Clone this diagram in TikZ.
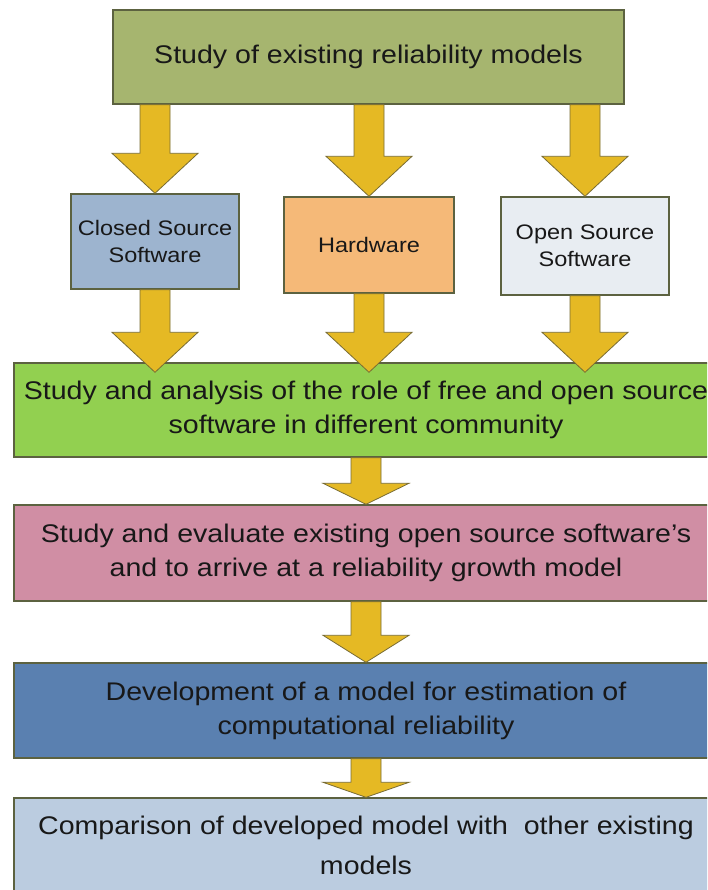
\documentclass[tikz,border=0pt]{standalone}
\usepackage{fontspec}
\setmainfont{Liberation Sans}[FakeStretch=1.12]
\usetikzlibrary{calc}

\definecolor{boxline}{RGB}{92,98,64}
\definecolor{textcol}{RGB}{24,24,24}
\definecolor{cstudy}{RGB}{166,181,111}
\definecolor{cclosed}{RGB}{157,180,207}
\definecolor{chard}{RGB}{245,185,120}
\definecolor{copen}{RGB}{232,237,242}
\definecolor{cgreen}{RGB}{146,208,80}
\definecolor{cpink}{RGB}{208,142,164}
\definecolor{cblue}{RGB}{90,128,176}
\definecolor{clight}{RGB}{187,204,224}
\definecolor{arrowfill}{RGB}{229,185,36}
\definecolor{arrowline}{RGB}{120,108,52}

\tikzset{
  box/.style={draw=boxline, line width=1.4pt, rectangle, inner sep=0pt,
    align=center, text=textcol},
  bigbox/.style={box, minimum width=704pt, minimum height=95pt,
    font=\fontsize{25.5}{34}\selectfont},
  smallbox/.style={box, minimum width=168pt,
    font=\fontsize{21}{26.5}\selectfont},
  fatarrow/.style={fill=arrowfill, draw=arrowline, line width=0.8pt,
    line join=miter},
}

% thick downward block arrow: start point, tip point, head length
\newcommand\blockarrow[3]{%
  \draw[fatarrow] let \p1=(#1), \p2=(#2) in
    (\x1-15pt,\y1) -- (\x1-15pt,\y2+#3pt) -- (\x1-43pt,\y2+#3pt) --
    (\x2,\y2) -- (\x1+43pt,\y2+#3pt) -- (\x1+15pt,\y2+#3pt) --
    (\x1+15pt,\y1) -- cycle;}

\begin{document}
\begin{tikzpicture}[x=1pt, y=-1pt]
  \useasboundingbox (0,0) rectangle (707,890);
  \clip (0,0) rectangle (707,890);
  \fill[white] (0,0) rectangle (707,890);

  % boxes
  \node[box, fill=cstudy, minimum width=511pt, minimum height=94pt,
        font=\fontsize{25.5}{34}\selectfont] (study) at (368.5,57)
        {Study of existing reliability models};

  \node[smallbox, fill=cclosed, minimum height=95pt] (closed) at (155,241.5)
        {Closed Source\\Software};
  \node[smallbox, fill=chard, minimum width=170pt, minimum height=96pt] (hard) at (369,245)
        {Hardware};
  \node[smallbox, fill=copen, minimum height=98pt] (open) at (585,246)
        {Open Source\\Software};

  \node[bigbox, fill=cgreen, minimum height=94pt] (role) at (366,410)
        {Study and analysis of the role of free and open source\\software in different community};
  \node[bigbox, fill=cpink, minimum height=96pt] (eval) at (366,553)
        {Study and evaluate existing open source software’s\\and to arrive at a reliability growth model};
  \node[bigbox, fill=cblue] (devel) at (366,710.5)
        {Development of a model for estimation of\\computational reliability};
  \node[bigbox, fill=clight, font=\fontsize{25.5}{40}\selectfont] (comp) at (366,845.5)
        {Comparison of developed model with~ other existing\\models};

  % arrows from the study box to the three domains
  \blockarrow{study.south -| closed.north}{closed.north}{40}
  \blockarrow{study.south -| hard.north}{hard.north}{40}
  \blockarrow{study.south -| open.north}{open.north}{40}

  % arrows from the three domains into the analysis box
  \blockarrow{closed.south}{$(closed.south |- role.north)+(0,10)$}{40}
  \blockarrow{hard.south}{$(hard.south |- role.north)+(0,10)$}{40}
  \blockarrow{open.south}{$(open.south |- role.north)+(0,10)$}{40}

  % main chain
  \blockarrow{role.south}{eval.north}{21}
  \blockarrow{eval.south}{devel.north}{27}
  \blockarrow{devel.south}{comp.north}{15}
\end{tikzpicture}
\end{document}
